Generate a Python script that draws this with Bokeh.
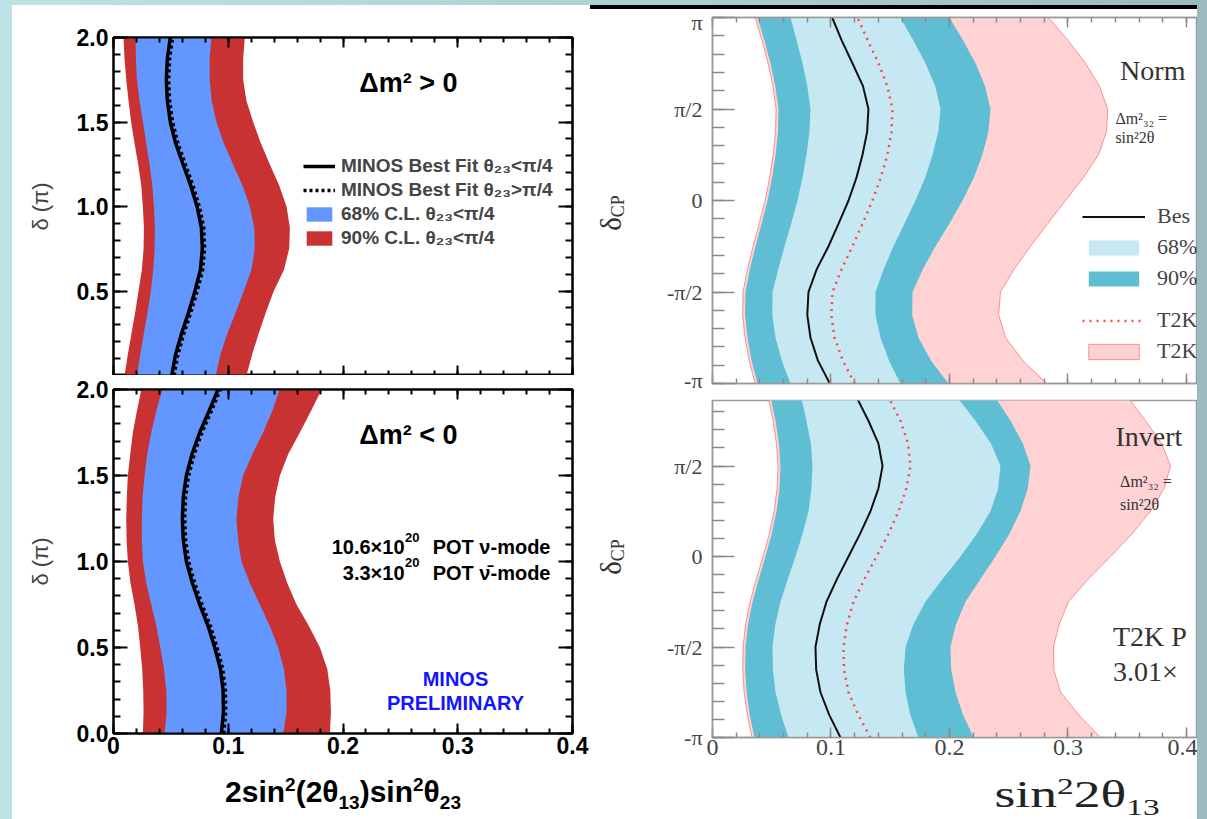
import math
from bokeh.plotting import figure
from bokeh.models import (LinearAxis, FixedTicker, CustomJSTickFormatter, Label,
                          Legend, LegendItem, Range1d, Spacer, Div)
from bokeh.layouts import row, column
from bokeh.embed import file_html
from bokeh.resources import INLINE

SANS = "Liberation Sans"
SERIF = "Liberation Serif"

# ---------------- MINOS (left) : delta in units of pi ----------------
minos_delta = [0.0, 0.125, 0.25, 0.375, 0.5, 0.625, 0.75, 0.875, 1.0,
               1.125, 1.25, 1.375, 1.5, 1.625, 1.75, 1.875, 2.0]
# dm2 > 0
nh_90_lo = [.0096, .0125, .0157, .0189, .0218, .0247, .0262, .0265, .0256,
            .0242, .0215, .0183, .0154, .0131, .0111, .0096, .0087]
nh_68_lo = [.0204, .0233, .0265, .0297, .0326, .0346, .0358, .0361, .0352,
            .0338, .0314, .0285, .0256, .0227, .0204, .0195, .0192]
nh_best = [.0507, .0541, .0594, .0655, .0710, .0757, .0774, .0766, .0728,
           .0672, .0606, .0541, .0495, .0469, .0460, .0469, .0495]
nh_best_hi = [.0527, .0561, .0614, .0675, .0730, .0777, .0794, .0786, .0748,
              .0692, .0626, .0561, .0515, .0489, .0480, .0489, .0515]
nh_68_hi = [.0891, .0932, .0993, .1066, .1135, .1202, .1231, .1226, .1188,
            .1124, .1042, .0961, .0897, .0856, .0838, .0838, .0853]
nh_90_hi = [.1159, .1208, .1266, .1328, .1397, .1485, .1531, .1537, .1508,
            .1444, .1362, .1284, .1217, .1159, .1130, .1130, .1144]
# dm2 < 0
ih_90_lo = [.0256, .0262, .0259, .0250, .0233, .0213, .0183, .0148, .0125,
            .0114, .0111, .0116, .0125, .0146, .0169, .0204, .0242]
ih_68_lo = [.0445, .0463, .0460, .0440, .0408, .0373, .0329, .0285, .0256,
            .0247, .0247, .0253, .0271, .0294, .0329, .0373, .0425]
ih_best = [.0940, .0958, .0955, .0932, .0882, .0824, .0751, .0687, .0635,
           .0608, .0600, .0608, .0635, .0684, .0751, .0833, .0911]
ih_best_hi = [.0960, .0978, .0975, .0952, .0902, .0844, .0771, .0707, .0655,
              .0628, .0620, .0628, .0655, .0704, .0771, .0853, .0931]
ih_68_hi = [.1479, .1508, .1508, .1485, .1435, .1362, .1275, .1188, .1115,
            .1086, .1071, .1089, .1130, .1211, .1304, .1383, .1450]
ih_90_hi = [.1886, .1895, .1889, .1863, .1799, .1703, .1595, .1514, .1450,
            .1406, .1392, .1409, .1450, .1523, .1624, .1721, .1814]

minos_x_ticks = [0.0, 0.1, 0.2, 0.3, 0.4]
minos_x_minor = [round(0.02 * i, 2) for i in range(21)]
minos_y_ticks = [0.0, 0.5, 1.0, 1.5, 2.0]
minos_y_minor = [round(0.1 * i, 1) for i in range(21)]

# ---------------- T2K (right) : delta_CP in units of pi ----------------
t2k_delta = [-1.0, -0.875, -0.75, -0.625, -0.5, -0.375, -0.25, -0.125, 0.0,
             0.125, 0.25, 0.375, 0.5, 0.625, 0.75, 0.875, 1.0]
# normal hierarchy
n_90_lo = [.0380, .0330, .0295, .0275, .0278, .0315, .0363, .0415, .0464,
           .0503, .0532, .0552, .0557, .0530, .0489, .0438, .0380]
n_pink_lo = [.0360, .0310, .0275, .0255, .0258, .0295, .0343, .0395, .0444,
             .0483, .0512, .0532, .0537, .0510, .0469, .0418, .0360]
n_pink_hi = [.2820, .2620, .2473, .2415, .2430, .2545, .2684, .2830, .2979,
             .3130, .3257, .3325, .3335, .3265, .3148, .3000, .2835]
n_90_hi = [.1990, .1845, .1738, .1685, .1688, .1775, .1882, .2000, .2110,
           .2205, .2278, .2328, .2346, .2300, .2220, .2115, .2000]
n_68_lo = [.0658, .0585, .0532, .0505, .0506, .0555, .0608, .0665, .0717,
           .0760, .0793, .0818, .0827, .0800, .0760, .0710, .0658]
n_68_hi = [.1586, .1490, .1418, .1375, .1376, .1445, .1527, .1620, .1713,
           .1795, .1857, .1905, .1924, .1880, .1797, .1695, .1586]
n_best = [.0990, .0890, .0827, .0800, .0810, .0880, .0979, .1065, .1148,
          .1215, .1266, .1305, .1316, .1270, .1181, .1090, .1010]
n_t2k_best = [.1200, .1100, .1030, .1003, .1013, .1090, .1181, .1268, .1350,
              .1420, .1477, .1510, .1519, .1475, .1401, .1310, .1224]
# inverted hierarchy
i_90_lo = [.0354, .0315, .0287, .0276, .0278, .0300, .0338, .0390, .0447,
           .0500, .0540, .0565, .0574, .0560, .0532, .0492, .0447]
i_pink_lo = [.0334, .0295, .0267, .0256, .0258, .0280, .0318, .0370, .0427,
             .0480, .0520, .0545, .0554, .0540, .0512, .0472, .0427]
i_pink_hi = [.3274, .3090, .2937, .2880, .2878, .2925, .3004, .3170, .3359,
             .3540, .3696, .3810, .3865, .3790, .3654, .3510, .3359]
i_90_hi = [.2203, .2115, .2051, .2015, .2008, .2055, .2135, .2260, .2388,
           .2505, .2599, .2660, .2684, .2620, .2515, .2390, .2262]
i_68_lo = [.0641, .0580, .0532, .0510, .0506, .0530, .0574, .0635, .0700,
           .0760, .0810, .0835, .0844, .0830, .0793, .0750, .0700]
i_68_hi = [.1738, .1670, .1629, .1615, .1629, .1695, .1797, .1940, .2093,
           .2230, .2346, .2410, .2430, .2350, .2219, .2070, .1924]
i_best = [.1080, .0985, .0911, .0875, .0869, .0905, .0962, .1050, .1148,
          .1245, .1333, .1400, .1435, .1400, .1316, .1220, .1122]
i_t2k_best = [.1333, .1230, .1148, .1110, .1105, .1135, .1190, .1282, .1384,
              .1485, .1570, .1635, .1671, .1650, .1586, .1490, .1376]

t2k_x_ticks = [0.0, 0.1, 0.2, 0.3, 0.4]
t2k_x_minor = [round(0.02 * i, 2) for i in range(21)]
t2k_y_ticks = [-1.0, -0.5, 0.0, 0.5, 1.0]
t2k_y_minor = [round(-1 + 0.1 * i, 1) for i in range(21)]

RED = "#c83232"
BLUE = "#6496ff"
LIGHT = "#c6e8f2"
DARK = "#5fbed4"
PINK = "#ffd2d4"
MBLUE = "#1414ff"
GRAYTXT = "#333333"


def empty_fmt():
    return CustomJSTickFormatter(code="return '';")


def make_axis(ticks, minor, fmt=None, font=SANS, size="23px", style="bold",
              color="black", tick_color="black", tick_w=2, major_in=10, minor_in=5,
              standoff=5, line_color="black", line_w=2):
    ax = LinearAxis(ticker=FixedTicker(ticks=ticks, minor_ticks=minor))
    ax.major_tick_in = major_in
    ax.major_tick_out = 0
    ax.minor_tick_in = minor_in
    ax.minor_tick_out = 0
    ax.major_tick_line_color = tick_color
    ax.minor_tick_line_color = tick_color
    ax.major_tick_line_width = tick_w
    ax.minor_tick_line_width = tick_w
    ax.axis_line_color = line_color
    ax.axis_line_width = line_w
    if fmt is None:
        ax.formatter = empty_fmt()
        ax.major_label_text_font_size = "0px"
        ax.major_label_standoff = 0
    else:
        ax.formatter = fmt
        ax.major_label_text_font = font
        ax.major_label_text_font_size = size
        ax.major_label_text_font_style = style
        ax.major_label_text_color = color
        ax.major_label_standoff = standoff
    return ax


def txt(p, x, y, s, size, font=SANS, style="bold", color="black", align="left",
        baseline="alphabetic"):
    p.add_layout(Label(x=x, y=y, text=s, text_align=align, text_baseline=baseline,
                       text_font=font, text_font_style=style, text_font_size=size,
                       text_color=color))


def html_box(width, height, cx, cy, inner, css, extra_transform="", vertical=False):
    wm = "writing-mode:vertical-rl;" if vertical else ""
    html = ('<div style="position:relative;width:%dpx;height:%dpx;background:white;">'
            '<span style="position:absolute;left:%dpx;top:%dpx;white-space:nowrap;line-height:1;%s'
            'transform:translate(-50%%,-50%%)%s;%s">%s</span></div>'
            % (width, height, cx, cy, wm, extra_transform, css, inner))
    return Div(text=html, width=width, height=height, margin=0,
               styles={"background-color": "white", "overflow": "hidden"})


def minos_panel(height, btop, bbot, lo90, lo68, best, best_hi, hi68, hi90, top):
    p = figure(width=578, height=height, x_range=Range1d(0, 0.4), y_range=Range1d(0, 2),
               x_axis_location=None, y_axis_location=None, toolbar_location=None,
               output_backend="svg", min_border_left=101, min_border_right=18,
               min_border_top=btop, min_border_bottom=bbot)
    p.xgrid.visible = False
    p.ygrid.visible = False
    p.outline_line_color = "black"
    p.outline_line_width = 2
    p.background_fill_color = "white"
    p.border_fill_color = "white"

    r90 = p.harea(x1=lo90, x2=hi90, y=minos_delta, fill_color=RED)
    r68 = p.harea(x1=lo68, x2=hi68, y=minos_delta, fill_color=BLUE)
    rdot = p.line(best_hi, minos_delta, line_color="black", line_width=3.5, line_dash="3 3")
    rsol = p.line(best, minos_delta, line_color="black", line_width=3.5)

    yfmt = CustomJSTickFormatter(
        code="return (%s && tick == 0) ? '' : tick.toFixed(1);" % ("true" if top else "false"))
    left = make_axis(minos_y_ticks, minos_y_minor, fmt=yfmt, major_in=14, minor_in=7, standoff=5)
    left.axis_label = "δ (π)"
    left.axis_label_text_font = SANS
    left.axis_label_text_font_size = "22px"
    left.axis_label_text_font_style = "normal"
    left.axis_label_standoff = 21
    p.add_layout(left, "left")
    p.add_layout(make_axis(minos_y_ticks, minos_y_minor, major_in=14, minor_in=7), "right")
    p.add_layout(make_axis(minos_x_ticks, minos_x_minor, major_in=10, minor_in=5), "above")
    if top:
        p.add_layout(make_axis(minos_x_ticks, minos_x_minor, major_in=10, minor_in=5), "below")
    else:
        xfmt = CustomJSTickFormatter(code="return tick == 0 ? '0' : tick.toFixed(1);")
        p.add_layout(make_axis(minos_x_ticks, minos_x_minor, fmt=xfmt, major_in=10,
                               minor_in=5, standoff=3), "below")
    return p, (rsol, rdot, r68, r90)


# ---------- MINOS top: dm2 > 0 ----------
p1, (rsol, rdot, r68, r90) = minos_panel(370, 32, 0, nh_90_lo, nh_68_lo, nh_best, nh_best_hi,
                                        nh_68_hi, nh_90_hi, True)
txt(p1, 0.257, 1.73, "Δm² > 0", "27px", align="center", baseline="middle")
leg = Legend(items=[LegendItem(label="MINOS Best Fit θ₂₃<π/4", renderers=[rsol]),
                    LegendItem(label="MINOS Best Fit θ₂₃>π/4", renderers=[rdot]),
                    LegendItem(label="68% C.L. θ₂₃<π/4", renderers=[r68]),
                    LegendItem(label="90% C.L. θ₂₃<π/4", renderers=[r90])],
             location=(190, 126), padding=0, margin=0, spacing=2, label_height=22,
             glyph_height=18, glyph_width=32, label_standoff=6,
             label_text_font=SANS, label_text_font_style="bold", label_text_font_size="19px",
             border_line_color=None, background_fill_alpha=0)
p1.add_layout(leg)

# ---------- MINOS bottom: dm2 < 0 ----------
p2, _ = minos_panel(390, 14, 32, ih_90_lo, ih_68_lo, ih_best, ih_best_hi, ih_68_hi, ih_90_hi, False)
txt(p2, 0.257, 1.733, "Δm² < 0", "27px", align="center", baseline="middle")
txt(p2, 0.3808, 1.087, "POT ν-mode", "20px", align="right")
txt(p2, 0.2667, 1.140, "20", "13px", align="right")
txt(p2, 0.2536, 1.087, "10.6×10", "20px", align="right")
txt(p2, 0.3808, 0.936, "POT ν̄-mode", "20px", align="right")
txt(p2, 0.2667, 0.994, "20", "13px", align="right")
txt(p2, 0.2536, 0.936, "3.3×10", "20px", align="right")
txt(p2, 0.298, 0.314, "MINOS", "20px", align="center", baseline="middle", color=MBLUE)
txt(p2, 0.298, 0.18, "PRELIMINARY", "20px", align="center", baseline="middle", color=MBLUE)

minos_title = html_box(
    578, 54, 331, 28,
    '2sin<sup style="font-size:19px">2</sup>(2θ<sub style="font-size:19px">13</sub>)'
    'sin<sup style="font-size:19px">2</sup>θ<sub style="font-size:19px">23</sub>',
    "font-family:'Liberation Sans';font-weight:bold;font-size:30px;color:black;")


def t2k_panel(height, btop, bbot, ytop, plo, phi, lo90, hi90, lo68, hi68, best, t2kbest, top):
    p = figure(width=547, height=height, x_range=Range1d(0, 0.4093), y_range=Range1d(-1, ytop),
               x_axis_location=None, y_axis_location=None, toolbar_location=None,
               output_backend="svg", min_border_left=62, min_border_right=0,
               min_border_top=btop, min_border_bottom=bbot)
    p.xgrid.visible = False
    p.ygrid.visible = False
    p.outline_line_color = "#9a9a9a"
    p.outline_line_width = 1.5
    p.background_fill_color = "white"
    p.border_fill_color = "white"

    rp = p.patch(x=plo + phi[::-1], y=t2k_delta + t2k_delta[::-1], fill_color=PINK,
                 line_color="#ff8e8e", line_width=1)
    r90 = p.harea(x1=lo90, x2=hi90, y=t2k_delta, fill_color=DARK)
    r68 = p.harea(x1=lo68, x2=hi68, y=t2k_delta, fill_color=LIGHT)
    rb = p.line(best, t2k_delta, line_color="#111111", line_width=2)
    rt = p.line(t2kbest, t2k_delta, line_color="#ff4848", line_width=2.5, line_dash="2 5")

    yfmt = CustomJSTickFormatter(code="""
        const m = {"-2": "-π", "-1": "-π/2", "0": "0", "1": "π/2", "2": "π"};
        const k = String(Math.round(tick * 2));
        return (k in m) ? m[k] : '';
    """)
    p.add_layout(make_axis(t2k_y_ticks, t2k_y_minor, fmt=yfmt, font=SERIF, size="22px",
                           style="normal", color="#444444", tick_color="#8a8a8a", tick_w=1.5,
                           major_in=22, minor_in=12, standoff=10, line_color="#9a9a9a",
                           line_w=1.5), "left")
    if top:
        p.add_layout(make_axis(t2k_x_ticks, t2k_x_minor, tick_color="#8a8a8a", tick_w=1.5,
                               major_in=10, minor_in=5, line_color="#9a9a9a", line_w=1.5),
                     "above")
        p.add_layout(make_axis(t2k_x_ticks, t2k_x_minor, tick_color="#8a8a8a", tick_w=1.5,
                               major_in=10, minor_in=5, line_color="#9a9a9a", line_w=1.5),
                     "below")
    else:
        xfmt = CustomJSTickFormatter(code="return tick == 0 ? '0' : tick.toFixed(1);")
        p.add_layout(make_axis(t2k_x_ticks, t2k_x_minor, fmt=xfmt, font=SERIF, size="24px",
                               style="normal", color="#444444", tick_color="#8a8a8a",
                               tick_w=1.5, major_in=10, minor_in=5, standoff=2,
                               line_color="#9a9a9a", line_w=1.5), "below")
    return p, (rb, r68, r90, rt, rp)


# ---------- T2K top: normal hierarchy ----------
p3, (rb, rl, rd, rt, rp) = t2k_panel(383, 8, 9, 1.0, n_pink_lo, n_pink_hi, n_90_lo, n_90_hi,
                                     n_68_lo, n_68_hi, n_best, n_t2k_best, True)
common_leg = dict(padding=0, margin=0, spacing=5, label_height=24, glyph_height=19,
                  glyph_width=63, label_standoff=12, label_text_font=SERIF,
                  label_text_font_size="22px", label_text_color="#444444",
                  border_line_color=None, background_fill_alpha=0)
p3.add_layout(Legend(items=[LegendItem(label="Bes", renderers=[rb]),
                            LegendItem(label="68%", renderers=[rl]),
                            LegendItem(label="90%", renderers=[rd])],
                     location=(370, 92), **common_leg))
p3.add_layout(Legend(items=[LegendItem(label="T2K", renderers=[rt]),
                            LegendItem(label="T2K", renderers=[rp])],
                     location=(370, 19), **common_leg))
txt(p3, 0.344, 0.712, "Norm", "28px", font=SERIF, style="normal", color=GRAYTXT, baseline="middle")
txt(p3, 0.340, 0.448, "Δm²₃₂ =", "16px", font=SERIF, style="normal", color=GRAYTXT, baseline="middle")
txt(p3, 0.340, 0.344, "sin²2θ", "16px", font=SERIF, style="normal", color=GRAYTXT, baseline="middle")

# ---------- T2K bottom: inverted hierarchy ----------
p4, _ = t2k_panel(373, 8, 28, 0.862, i_pink_lo, i_pink_hi, i_90_lo, i_90_hi,
                  i_68_lo, i_68_hi, i_best, i_t2k_best, False)
txt(p4, 0.340, 0.663, "Invert", "28px", font=SERIF, style="normal", color=GRAYTXT, baseline="middle")
txt(p4, 0.344, 0.414, "Δm²₃₂ =", "16px", font=SERIF, style="normal", color=GRAYTXT, baseline="middle")
txt(p4, 0.344, 0.287, "sin²2θ", "16px", font=SERIF, style="normal", color=GRAYTXT, baseline="middle")
txt(p4, 0.338, -0.442, "T2K P", "28px", font=SERIF, style="normal", color=GRAYTXT, baseline="middle")
txt(p4, 0.338, -0.635, "3.01×", "28px", font=SERIF, style="normal", color=GRAYTXT, baseline="middle")

dcp_css = "font-family:'Liberation Serif';font-size:29px;color:#333333;"
dcp_html = 'δ<sub style="font-size:18px">CP</sub>'
ylab3 = html_box(60, 383, 22, 204, dcp_html, dcp_css, extra_transform=" rotate(180deg)",
                 vertical=True)
ylab4 = html_box(60, 373, 22, 165, dcp_html, dcp_css, extra_transform=" rotate(180deg)",
                 vertical=True)
t2k_title = html_box(
    607, 54, 487, 32,
    'sin<sup style="font-size:23px">2</sup>2θ<sub style="font-size:23px">13</sub>',
    "font-family:'Liberation Serif';font-size:37px;color:#222222;",
    extra_transform=" scaleX(1.45)")

left_col = column(p1, p2, minos_title, spacing=0)
right_col = column(Spacer(width=607, height=4, margin=0, styles={"background-color": "black"}),
                   row(ylab3, p3, spacing=0), row(ylab4, p4, spacing=0), t2k_title, spacing=0)
inner = row(left_col, right_col, spacing=0, styles={"background-color": "white"})
middle = column(Spacer(width=1185, height=5, margin=0), inner, spacing=0)
page = row(Spacer(width=12, height=819, margin=0), middle,
           Spacer(width=10, height=819, margin=0), spacing=0,
           styles={"background": "linear-gradient(to right, #bde2e5 0%, #aacdd1 60%, #9bbabe 100%)"})

open("out.html", "w").write(file_html(page, INLINE))
